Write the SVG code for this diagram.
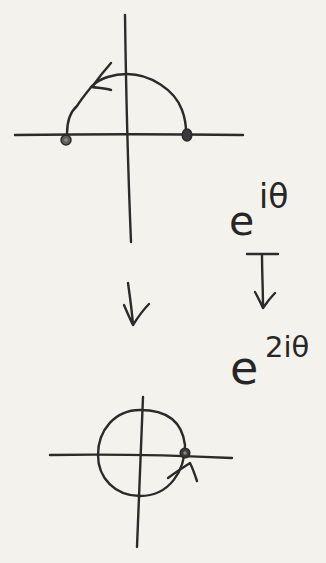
<svg xmlns="http://www.w3.org/2000/svg" width="326" height="563" viewBox="0 0 326 563">
<style>
.ln{fill:none;stroke:#2b2b2b;stroke-width:2.4;stroke-linecap:round;stroke-linejoin:round}
.dot{fill:#3a3a3a;stroke:#2b2b2b;stroke-width:1.5}
.tx{font-family:"DejaVu Sans","Liberation Sans",sans-serif;fill:#262626}
</style>
<rect width="326" height="563" fill="#f4f2ec"/>
<g id="top-plane">
<path class="ln" d="M125,15 C126,90 128,170 131,242"/>
<path class="ln" d="M15,135 C90,134 170,134 243,135"/>
<path class="ln" d="M67,134 C67,120 70,112 77,106 C82,98 88,91 92,86 C100,78 114,74 127,74 C150,74 175,90 182,110 C185,118 186,126 186,132"/>
<path class="ln" d="M111,63 C103,72 97,80 92,87 C98,88 104,88 111,90"/>
<circle class="dot" cx="66" cy="140" r="5" fill-opacity="0.8"/>
<circle cx="66" cy="140" r="1.8" fill="#8a8a8a"/>
<ellipse class="dot" cx="187" cy="135" rx="4.8" ry="6"/>
</g>
<g id="bottom-plane">
<path class="ln" d="M143,397 C141,450 139,500 137,547"/>
<path class="ln" d="M50,455 C110,454 170,455 232,458"/>
<path class="ln" d="M140,410 C165,410 182,420 185,445 C185,470 170,496 140,496 C115,496 98,478 98,455 C98,430 115,410 140,410 Z"/>
<circle class="dot" cx="185" cy="453" r="4.8"/>
<circle cx="185" cy="453" r="1.8" fill="#888"/>
<path class="ln" d="M168,478 C176,472 184,467 190,463 C193,469 195,475 197,481"/>
</g>
<g id="connectors">
<path class="ln" d="M128,283 C130,297 132,311 133,325 M124,305 C127,312 130,319 133,325 C138,317 143,310 149,304"/>
<path class="ln" d="M247,254 L278,254 M262,254 C262,272 263,290 263,308 M255,292 C258,297 260,302 263,308 C267,302 271,297 275,293"/>
</g>
<g id="labels">
<text class="tx" x="229" y="235" font-size="41">e</text>
<text class="tx" x="259" y="208" font-size="33">iθ</text>
<text class="tx" x="230" y="384" font-size="46">e</text>
<text class="tx" x="265" y="357" font-size="29">2iθ</text>
</g>
</svg>
